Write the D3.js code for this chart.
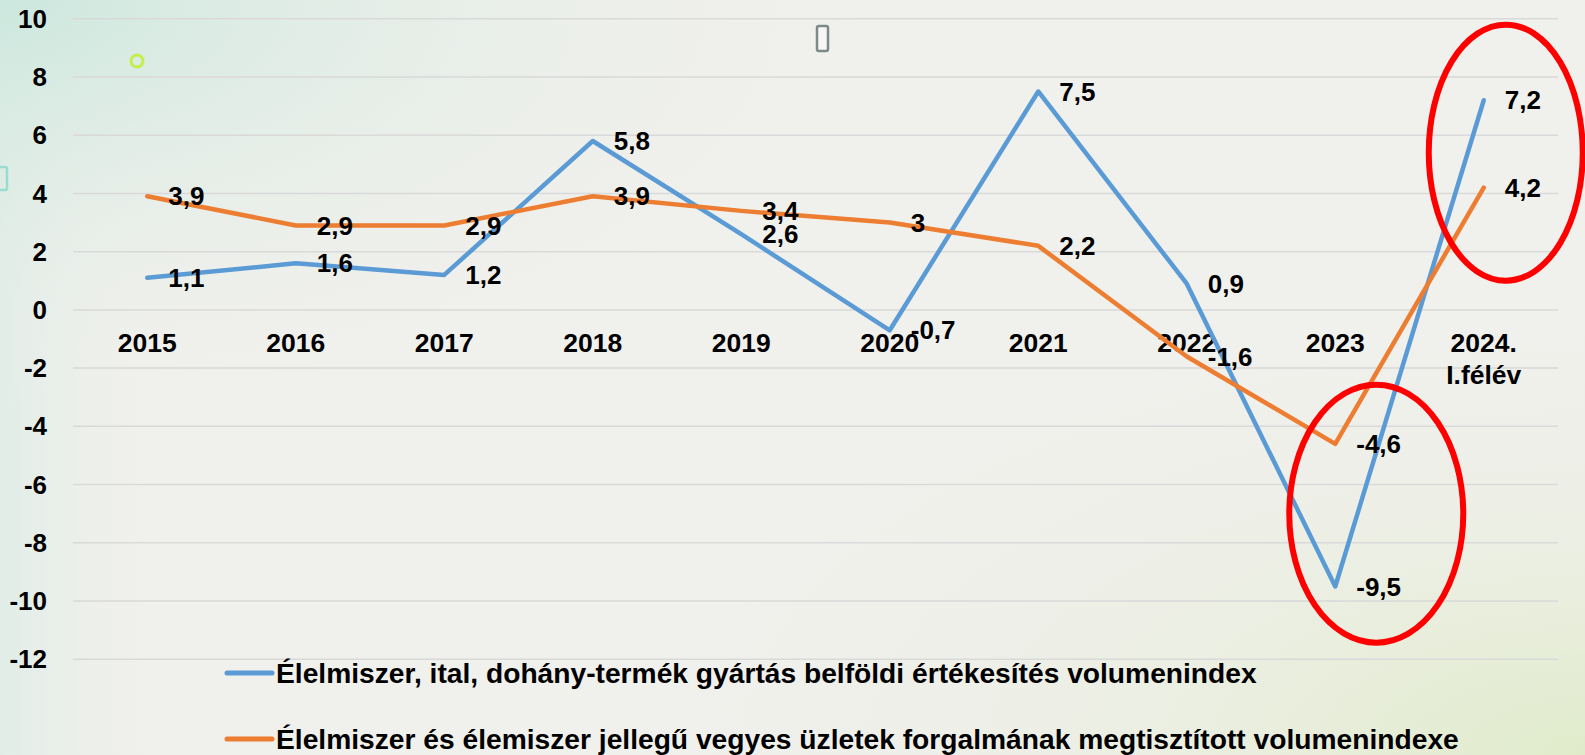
<!DOCTYPE html>
<html>
<head>
<meta charset="utf-8">
<script src="https://cdn.jsdelivr.net/npm/d3@7"></script>
<style>
  html, body { margin: 0; padding: 0; overflow: hidden; }
  svg { display: block; }
  text { font-family: "Liberation Sans", Arial, sans-serif; font-weight: bold; fill: #000; }
</style>
</head>
<body>
<script>
// ---- data ----
const categories = ["2015", "2016", "2017", "2018", "2019", "2020", "2021", "2022", "2023", "2024.\nI.félév"];
const seriesNames = [
  "Élelmiszer, ital, dohány-termék gyártás belföldi értékesítés volumenindex",
  "Élelmiszer és élemiszer jellegű vegyes üzletek forgalmának megtisztított volumenindexe"
];
const productionValues = [1.1, 1.6, 1.2, 5.8, 2.6, -0.7, 7.5, 0.9, -9.5, 7.2];
const retailValues = [3.9, 2.9, 2.9, 3.9, 3.4, 3, 2.2, -1.6, -4.6, 4.2];
const yTicks = [10, 8, 6, 4, 2, 0, -2, -4, -6, -8, -10, -12];
const seriesColors = ["#5B9BD5", "#ED7D31"];

const W = 1585, H = 755;
const svg = d3.select("body").append("svg").attr("width", W).attr("height", H);

// background
const defs = svg.append("defs");
const g1 = defs.append("radialGradient").attr("id", "tl").attr("cx", 0).attr("cy", 0).attr("r", 0.55);
g1.append("stop").attr("offset", "0%").attr("stop-color", "#cce8de");
g1.append("stop").attr("offset", "100%").attr("stop-color", "#f0f0ec").attr("stop-opacity", 0);
const g2 = defs.append("radialGradient").attr("id", "br").attr("cx", 1).attr("cy", 1).attr("r", 0.6);
g2.append("stop").attr("offset", "0%").attr("stop-color", "#e0ebca");
g2.append("stop").attr("offset", "100%").attr("stop-color", "#f0f0ec").attr("stop-opacity", 0);
const g3 = defs.append("linearGradient").attr("id", "lft").attr("x1", 0).attr("x2", 1).attr("y1", 0).attr("y2", 0);
g3.append("stop").attr("offset", "0%").attr("stop-color", "#d6ebe4");
g3.append("stop").attr("offset", "100%").attr("stop-color", "#f0f0ec").attr("stop-opacity", 0);

svg.append("rect").attr("width", W).attr("height", H).attr("fill", "#f0f0ec");
svg.append("rect").attr("width", 160).attr("height", H).attr("fill", "url(#lft)").attr("opacity", 0.6);
svg.append("rect").attr("width", W).attr("height", H).attr("fill", "url(#tl)");
svg.append("rect").attr("width", W).attr("height", H).attr("fill", "url(#br)");

// scales
const y = d3.scaleLinear().domain([-12, 10]).range([659.3, 18.7]);
const xb = d3.scaleBand().domain(categories).range([73, 1558]);
const x = d => xb(d) + xb.bandwidth() / 2;

// gridlines
svg.append("g").selectAll("line").data(yTicks).join("line")
  .attr("x1", 73).attr("x2", 1558)
  .attr("y1", d => y(d)).attr("y2", d => y(d))
  .attr("stroke", "#d9d9d9").attr("stroke-width", 1.5);

// y axis labels
svg.append("g").selectAll("text").data(yTicks).join("text")
  .attr("x", 47).attr("y", d => y(d)).attr("dy", "0.35em")
  .attr("text-anchor", "end").attr("font-size", 26)
  .text(d => d);

// x category labels
const xl = svg.append("g").selectAll("text").data(categories).join("text")
  .attr("text-anchor", "middle").attr("font-size", 26.5)
  .attr("transform", d => `translate(${x(d)},352)`);
xl.selectAll("tspan").data(d => d.split("\n")).join("tspan")
  .attr("x", 0).attr("dy", (d, i) => i === 0 ? 0 : 31.5).text(d => d);

// artifacts (missing glyph boxes in the original)
svg.append("circle").attr("cx", 137).attr("cy", 61).attr("r", 6).attr("fill", "none")
  .attr("stroke", "#c6ee4a").attr("stroke-width", 3);
svg.append("rect").attr("x", 817).attr("y", 26).attr("width", 11).attr("height", 25).attr("rx", 2)
  .attr("fill", "#f6f6f6").attr("stroke", "#7d8a88").attr("stroke-width", 2.5);
svg.append("rect").attr("x", -6).attr("y", 167).attr("width", 13).attr("height", 23).attr("rx", 2)
  .attr("fill", "none").attr("stroke", "#9bdcd0").attr("stroke-width", 2.5);

// lines
const series = [productionValues, retailValues];
const line = d3.line().x((d, i) => x(categories[i])).y(d => y(d));
series.forEach((vals, si) => {
  svg.append("path").datum(vals).attr("d", line)
    .attr("fill", "none").attr("stroke", seriesColors[si]).attr("stroke-width", 4.5)
    .attr("stroke-linejoin", "round").attr("stroke-linecap", "round");
});

// data labels
const fmt = v => String(v).replace(".", ",");
series.forEach((vals, si) => {
  svg.append("g").selectAll("text").data(vals).join("text")
    .attr("x", (d, i) => x(categories[i]) + 21)
    .attr("y", d => y(d)).attr("dy", "0.35em")
    .attr("font-size", 26)
    .text(d => fmt(d));
});

// legend
const leg = svg.append("g");
[673, 739].forEach((ly, i) => {
  leg.append("line").attr("x1", 227).attr("x2", 272).attr("y1", ly).attr("y2", ly)
    .attr("stroke", seriesColors[i]).attr("stroke-width", 5).attr("stroke-linecap", "round");
  leg.append("text").attr("x", 276).attr("y", ly + 10).attr("font-size", 28.2).text(seriesNames[i]);
});

// red highlight ellipses
const hl = [
  { cat: 9, v: 5.4, rx: 77, ry: 128 },
  { cat: 8, v: -7.0, rx: 87, ry: 129 }
];
svg.append("g").selectAll("ellipse").data(hl).join("ellipse")
  .attr("cx", d => x(categories[d.cat]) + (d.cat === 9 ? 22 : 41))
  .attr("cy", d => y(d.v))
  .attr("rx", d => d.rx).attr("ry", d => d.ry)
  .attr("fill", "none").attr("stroke", "#ff0000").attr("stroke-width", 6);
</script>
</body>
</html>
